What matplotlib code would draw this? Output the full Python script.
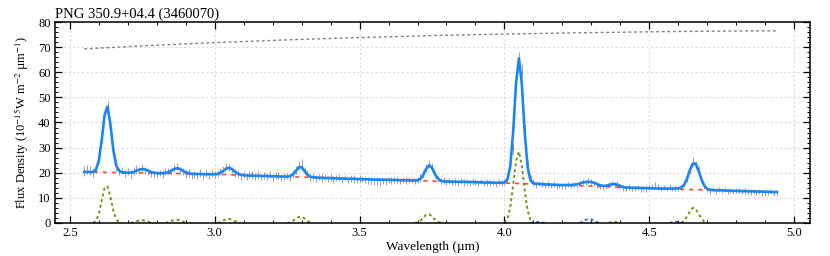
import numpy as np
import matplotlib
matplotlib.use("Agg")
import matplotlib.pyplot as plt
from matplotlib.ticker import MultipleLocator

plt.rcParams['font.family'] = ['Liberation Serif', 'DejaVu Serif']
plt.rcParams['mathtext.fontset'] = 'stix'

# wavelength grid of the spectrum (um), 0.01 um sampling
wavelength = np.round(np.arange(2.55, 4.945, 0.01), 2)

# observed flux density (1e-15 W m-2 um-1)
flux = [
    20.6, 21.3, 21.0, 20.0, 21.6, 25.3, 33.5, 43.8, 46.7, 38.6,
    28.4, 22.1, 20.4, 20.9, 19.8, 20.5, 19.6, 20.8, 21.5, 20.9,
    21.8, 21.0, 20.4, 19.7, 19.3, 19.2, 19.9, 19.5, 20.4, 20.6,
    20.5, 21.9, 22.3, 21.1, 20.3, 19.4, 19.9, 19.0, 19.3, 18.8,
    19.9, 19.0, 19.6, 18.9, 19.7, 19.2, 19.8, 20.5, 21.2, 22.3,
    22.1, 21.0, 19.9, 19.5, 18.6, 19.4, 18.5, 19.2, 19.0, 18.4,
    19.1, 18.3, 18.9, 18.6, 19.3, 18.2, 18.8, 18.9, 18.1, 18.6,
    18.7, 18.3, 19.6, 21.0, 22.9, 23.5, 20.9, 19.6, 18.0, 18.5,
    17.6, 18.2, 17.9, 18.3, 17.5, 18.0, 17.4, 17.9, 18.1, 17.3,
    17.9, 17.2, 17.8, 17.5, 17.3, 17.7, 17.6, 17.1, 16.9, 16.7,
    16.4, 16.6, 16.3, 16.8, 16.5, 17.0, 16.9, 17.3, 17.0, 16.8,
    17.2, 16.9, 17.3, 17.1, 16.7, 17.2, 17.9, 19.5, 21.9, 23.4,
    22.3, 19.2, 17.5, 16.6, 16.9, 16.3, 16.7, 16.2, 16.5, 16.1,
    16.6, 16.2, 16.5, 16.0, 16.4, 16.3, 15.9, 16.5, 16.0, 16.2,
    15.8, 16.1, 15.7, 16.3, 15.9, 16.4, 17.8, 23.4, 29.5, 54.5,
    65.2, 60.5, 36.8, 22.8, 17.6, 16.1, 15.3, 15.8, 15.6, 15.2,
    15.5, 14.9, 15.4, 14.6, 15.0, 14.5, 14.7, 15.3, 14.9, 15.4,
    15.0, 15.9, 16.4, 16.0, 16.8, 16.5, 15.7, 15.1, 14.6, 14.3,
    14.5, 15.4, 15.8, 15.3, 15.6, 14.4, 14.0, 13.6, 14.3, 13.7,
    13.8, 14.2, 13.5, 13.9, 13.6, 14.1, 14.6, 14.8, 14.3, 13.8,
    14.2, 13.9, 14.3, 13.6, 14.0, 13.9, 14.3, 15.4, 17.8, 21.3,
    24.5, 23.1, 21.3, 17.0, 14.5, 13.2, 12.8, 13.4, 12.7, 13.2,
    12.9, 13.3, 12.6, 13.1, 12.5, 12.9, 13.0, 12.4, 12.8, 12.6,
    12.3, 12.7, 12.2, 12.6, 12.0, 11.9, 12.2, 12.5, 11.8, 11.9,
]

flux_err = [
    2.0, 1.9, 1.8, 1.7, 1.6, 1.5, 1.6, 1.8, 1.9, 1.7,
    1.6, 1.5, 1.4, 1.5, 1.3, 1.4, 1.5, 1.6, 1.5, 1.4,
    1.5, 1.4, 1.3, 1.4, 1.5, 1.4, 1.3, 1.5, 1.4, 1.3,
    1.4, 1.5, 1.4, 1.3, 1.4, 1.5, 1.4, 1.3, 1.5, 1.4,
    1.5, 1.4, 1.3, 1.4, 1.5, 1.4, 1.3, 1.4, 1.5, 1.4,
    1.4, 1.3, 1.4, 1.5, 1.3, 1.4, 1.3, 1.4, 1.5, 1.3,
    1.4, 1.3, 1.5, 1.4, 1.3, 1.4, 1.3, 1.5, 1.4, 1.3,
    1.3, 1.4, 1.5, 1.6, 1.7, 1.8, 1.5, 1.4, 1.3, 1.4,
    1.3, 1.2, 1.4, 1.3, 1.2, 1.3, 1.4, 1.2, 1.3, 1.2,
    1.3, 1.2, 1.3, 1.4, 1.2, 1.3, 1.2, 1.3, 1.4, 1.3,
    1.4, 1.3, 1.4, 1.2, 1.3, 1.2, 1.3, 1.2, 1.3, 1.2,
    1.2, 1.3, 1.2, 1.3, 1.2, 1.3, 1.4, 1.5, 1.6, 1.7,
    1.6, 1.4, 1.3, 1.2, 1.3, 1.2, 1.3, 1.2, 1.3, 1.2,
    1.2, 1.3, 1.2, 1.1, 1.2, 1.3, 1.2, 1.1, 1.2, 1.3,
    1.2, 1.1, 1.2, 1.3, 1.2, 1.3, 1.5, 1.8, 2.0, 2.6,
    2.8, 2.6, 2.3, 1.8, 1.5, 1.3, 1.2, 1.1, 1.2, 1.1,
    1.2, 1.1, 1.2, 1.1, 1.0, 1.1, 1.2, 1.1, 1.0, 1.1,
    1.1, 1.2, 1.1, 1.0, 1.1, 1.2, 1.1, 1.0, 1.1, 1.0,
    1.1, 1.0, 1.1, 1.2, 1.1, 1.0, 1.1, 1.0, 1.1, 1.0,
    1.1, 1.0, 1.1, 1.0, 1.1, 1.0, 1.1, 1.4, 1.1, 1.0,
    1.1, 1.0, 1.1, 1.0, 1.1, 1.0, 1.1, 1.2, 1.3, 1.5,
    1.7, 1.6, 1.4, 1.2, 1.1, 1.0, 1.1, 1.0, 1.1, 1.0,
    1.1, 1.0, 1.1, 1.0, 1.1, 1.0, 1.1, 1.0, 1.1, 1.0,
    1.1, 1.0, 1.1, 1.0, 1.1, 1.2, 1.1, 1.0, 1.2, 1.1,
]

# total fitted model on the same grid
model = [
    20.3, 20.3, 20.3, 20.3, 21.2, 24.8, 33.0, 43.0, 46.3, 39.3,
    29.1, 22.9, 20.7, 20.2, 20.1, 20.0, 20.1, 20.3, 20.8, 21.2,
    21.5, 21.3, 20.8, 20.3, 20.0, 19.8, 19.8, 19.8, 19.9, 20.2,
    20.8, 21.5, 21.8, 21.5, 20.8, 20.1, 19.8, 19.6, 19.5, 19.5,
    19.5, 19.4, 19.4, 19.4, 19.4, 19.4, 19.5, 20.0, 20.8, 21.7,
    22.0, 21.4, 20.4, 19.6, 19.2, 19.0, 18.9, 18.9, 18.8, 18.8,
    18.8, 18.7, 18.7, 18.7, 18.6, 18.6, 18.6, 18.5, 18.5, 18.5,
    18.4, 18.6, 19.3, 20.7, 22.2, 22.2, 20.7, 19.2, 18.4, 18.2,
    18.1, 18.0, 18.0, 17.9, 17.9, 17.9, 17.8, 17.8, 17.7, 17.7,
    17.7, 17.6, 17.6, 17.6, 17.5, 17.5, 17.4, 17.4, 17.4, 17.3,
    17.3, 17.3, 17.2, 17.2, 17.2, 17.2, 17.1, 17.1, 17.1, 17.0,
    17.0, 17.0, 17.0, 16.9, 16.9, 17.0, 17.6, 19.2, 21.6, 23.0,
    22.0, 19.5, 17.7, 16.8, 16.6, 16.5, 16.5, 16.4, 16.4, 16.4,
    16.4, 16.4, 16.3, 16.3, 16.3, 16.2, 16.2, 16.2, 16.1, 16.1,
    16.1, 16.0, 16.0, 16.0, 16.0, 16.1, 17.2, 22.5, 36.0, 55.5,
    65.5, 55.5, 36.0, 22.3, 17.0, 15.8, 15.6, 15.5, 15.4, 15.4,
    15.3, 15.3, 15.2, 15.2, 15.1, 15.1, 15.1, 15.1, 15.1, 15.2,
    15.4, 15.7, 16.1, 16.3, 16.4, 16.3, 16.0, 15.5, 15.0, 14.8,
    14.8, 15.1, 15.4, 15.5, 15.2, 14.7, 14.3, 14.1, 14.1, 14.0,
    14.0, 14.0, 13.9, 13.9, 13.9, 13.8, 13.8, 13.8, 13.7, 13.7,
    13.7, 13.7, 13.7, 13.7, 13.7, 13.8, 14.1, 15.1, 17.5, 21.0,
    23.6, 23.6, 20.9, 17.4, 14.8, 13.6, 13.2, 13.1, 13.0, 13.0,
    13.0, 12.9, 12.9, 12.8, 12.8, 12.8, 12.7, 12.7, 12.7, 12.6,
    12.6, 12.6, 12.5, 12.5, 12.5, 12.4, 12.4, 12.4, 12.3, 12.3,
]

# continuum (red dashed)
cont_wl = [2.55, 3.0, 3.5, 4.0, 4.5, 4.95]
cont_flux = [20.3, 19.4, 17.5, 15.9, 13.8, 12.3]

# grey dotted curve near the top
top_wl = [2.55, 2.75, 3.0, 3.25, 3.5, 3.75, 4.0, 4.25, 4.5, 4.75, 4.94]
top_flux = [69.3, 70.5, 71.8, 72.9, 73.8, 74.6, 75.2, 75.7, 76.1, 76.4, 76.5]

# line components: (first wavelength, values at 0.01 um steps)
olive_lines = [
    (2.58, [0.0, 0.8, 3.5, 9.0, 14.0, 14.6, 10.5, 5.0, 1.5, 0.3, 0.0]),
    (2.71, [0.0, 0.3, 0.7, 1.0, 1.1, 0.9, 0.5, 0.2, 0.0]),
    (2.83, [0.0, 0.3, 0.8, 1.2, 1.3, 1.0, 0.5, 0.2, 0.0]),
    (3.01, [0.0, 0.4, 1.0, 1.5, 1.6, 1.3, 0.7, 0.2, 0.0]),
    (3.25, [0.0, 0.2, 0.8, 1.7, 2.4, 2.5, 1.8, 0.8, 0.2, 0.0]),
    (3.69, [0.0, 0.3, 1.0, 2.2, 3.3, 3.5, 2.7, 1.4, 0.5, 0.1, 0.0]),
    (4.00, [0.0, 1.5, 6.0, 15.0, 24.5, 28.4, 23.0, 13.0, 5.0, 1.2, 0.0]),
    (4.36, [0.0, 0.4, 0.5, 0.3, 0.0]),
    (4.61, [0.0, 0.8, 2.5, 4.6, 6.0, 5.6, 3.8, 1.8, 0.5, 0.0]),
]
blue_lines = [
    (4.09, [0.0, 0.3, 0.4, 0.3, 0.2, 0.0]),
    (4.26, [0.0, 0.5, 1.2, 1.6, 1.4, 0.8, 0.3, 0.0]),
    (4.57, [0.0, 0.3, 0.5, 0.4, 0.1, 0.0]),
]

fig, ax = plt.subplots(figsize=(8.3, 2.56), dpi=100)
fig.subplots_adjust(left=0.066, right=0.976, bottom=0.129, top=0.914)

ax.plot(top_wl, top_flux, color='0.5', linestyle=(0, (2, 2)), linewidth=1.0)
ax.errorbar(wavelength, flux, yerr=flux_err, fmt='none', ecolor='0.4',
            elinewidth=0.8, alpha=0.6)
ax.plot(cont_wl, cont_flux, color='#ff4b2b', linestyle=(0, (2.5, 3)), linewidth=1.2)
for start, vals in olive_lines:
    x = start + 0.01 * np.arange(len(vals))
    ax.plot(x, vals, color='#7f8f10', linestyle=(0, (1.5, 1.5)), linewidth=1.4)
for start, vals in blue_lines:
    x = start + 0.01 * np.arange(len(vals))
    ax.plot(x, vals, color='#2a6fe0', linestyle=(0, (1.5, 1.5)), linewidth=1.4)
ax.plot(wavelength, model, color='#1a86f5', linewidth=1.9)

ax.set_xlim(2.448, 5.055)
ax.set_ylim(0, 80)
ax.xaxis.set_major_locator(MultipleLocator(0.5))
ax.xaxis.set_minor_locator(MultipleLocator(0.1))
ax.yaxis.set_major_locator(MultipleLocator(10))
ax.yaxis.set_minor_locator(MultipleLocator(2))
ax.tick_params(which='both', direction='in', top=True, right=True, labelsize=9)
ax.tick_params(which='major', length=5, width=0.9, pad=3)
ax.tick_params(which='minor', length=2.5, width=0.7)
ax.grid(True, which='major', color='0.82', linestyle=(0, (1.5, 2.5)), linewidth=0.8)
for s in ax.spines.values():
    s.set_linewidth(1.1)

ax.set_xlabel('Wavelength (µm)', fontsize=9.5, labelpad=1)
ax.set_ylabel('Flux Density (10$^{-15}$W m$^{-2}$ µm$^{-1}$)', fontsize=9, labelpad=5)
ax.set_title('PNG 350.9+04.4 (3460070)', loc='left', fontsize=10.5, pad=3)

fig.savefig('out.png', dpi=100)
